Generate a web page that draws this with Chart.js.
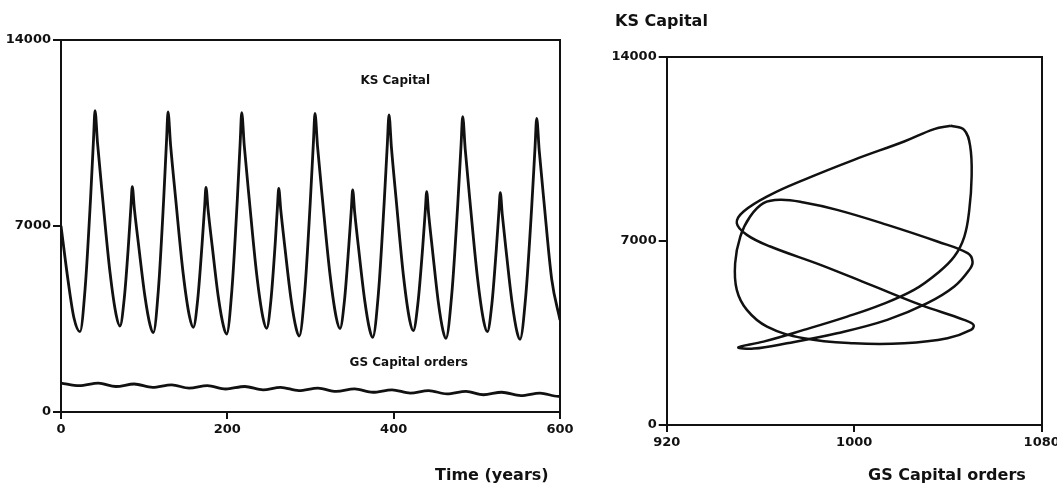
<!DOCTYPE html>
<html>
<head>
<meta charset="utf-8">
<script src="https://cdn.jsdelivr.net/npm/chart.js@4.4.0/dist/chart.umd.min.js"></script>
<style>
  html, body { margin: 0; padding: 0; background: #ffffff; }
  body { width: 1057px; height: 492px; position: relative; overflow: hidden; }
  .panel { position: absolute; top: 0; height: 492px; }
  #timePanel { left: 0; width: 600px; }
  #phasePanel { left: 600px; width: 457px; }
</style>
</head>
<body>
<div class="panel" id="timePanel"><canvas id="timeChart"></canvas></div>
<div class="panel" id="phasePanel"><canvas id="phaseChart"></canvas></div>
<script>
// ---- KS Capital over time (years) ----
const ksYears = [
  0, 8.4, 15.6, 22.8, 29.1, 35.5, 39.1, 40.9, 43.9, 49.9, 58.9, 66.4, 70.9,
  76.1, 81.3, 84.2, 85.7, 88.2, 93.3, 100.9, 107.2, 111.0,
  117.2, 123.4, 126.9, 128.7, 131.7, 137.8, 146.9, 154.5, 159.1,
  164.4, 169.7, 172.8, 174.3, 176.8, 181.8, 189.2, 195.5, 199.2,
  205.5, 211.9, 215.5, 217.3, 220.3, 226.3, 235.3, 242.8, 247.3,
  252.4, 257.5, 260.3, 261.8, 264.3, 269.2, 276.6, 282.8, 286.5,
  293.1, 299.7, 303.5, 305.4, 308.4, 314.4, 323.5, 331.0, 335.5,
  340.8, 346.1, 349.2, 350.7, 353.1, 357.9, 365.2, 371.2, 374.8,
  381.7, 388.5, 392.4, 394.4, 397.3, 403.2, 411.9, 419.2, 423.6,
  429.2, 434.9, 438.1, 439.7, 442.0, 446.7, 453.6, 459.4, 462.9,
  469.9, 477.0, 481.0, 483.0, 486.0, 491.9, 500.8, 508.2, 512.6,
  518.1, 523.5, 526.6, 528.2, 530.6, 535.3, 542.4, 548.3, 551.9,
  558.9, 566.0, 570.0, 572.0, 575.0, 581.0, 590.0, 600.0
];
const ksValues = [
  7007, 4967, 3538, 3022, 4686, 8012, 10258, 11339, 10124, 8097, 5262, 3641, 3236,
  4285, 6382, 7797, 8479, 7654, 6281, 4358, 3259, 2985,
  4646, 7968, 10211, 11290, 10075, 8049, 5213, 3593, 3188,
  4241, 6349, 7771, 8456, 7628, 6248, 4316, 3212, 2936,
  4601, 7933, 10182, 11264, 10047, 8018, 5179, 3556, 3150,
  4204, 6311, 7734, 8418, 7585, 6195, 4250, 3138, 2861,
  4535, 7885, 10145, 11233, 10019, 7997, 5165, 3547, 3142,
  4185, 6270, 7677, 8355, 7523, 6137, 4197, 3088, 2811,
  4484, 7830, 10090, 11177, 9960, 7930, 5089, 3466, 3060,
  4106, 6198, 7611, 8291, 7464, 6084, 4153, 3049, 2773,
  4442, 7777, 10029, 11113, 9899, 7877, 5045, 3427, 3022,
  4069, 6161, 7573, 8254, 7426, 6047, 4115, 3011, 2736,
  4399, 7726, 9971, 11053, 9844, 7827, 5003, 3463
];

// ---- GS Capital orders over time (years) ----
const gsYears = [
  0, 22, 45, 66, 88, 110, 133, 154, 176, 198, 221, 243, 264, 286,
  309, 331, 353, 375, 398, 420, 442, 464, 487, 508, 530, 553, 576, 598, 600
];
const gsValues = [
  1090, 990, 1083, 959, 1053, 928, 1022, 897, 992, 866, 960, 835, 930, 805,
  899, 773, 868, 743, 836, 711, 806, 680, 774, 649, 744, 618, 712, 586, 586
];

// ---- Phase path: GS Capital orders (x) against KS Capital (y) ----
const phaseOrders = [
  1041.2, 1046.9, 1049.5, 1050.1, 1049.1, 1047.0, 1042.7, 1035.5, 1025.5, 1011.3, 997.0, 978.5, 961.3, 950.6,
  957.1, 971.3, 992.7, 1014.1, 1031.2, 1042.7, 1049.1, 1050.5, 1048.4, 1035.5, 1014.1, 992.7, 978.5, 968.5,
  961.3, 955.6, 951.4, 949.2, 949.9, 954.2, 962.8, 978.5, 999.9, 1021.3, 1039.8, 1049.8, 1050.9,
  1046.9, 1028.4, 1007.0, 985.6, 964.2, 954.2, 949.9, 952.8, 964.2, 978.5, 999.9, 1021.3, 1034.1, 1041.2
];
const phaseCapital = [
  11374, 11222, 10588, 9447, 8179, 7165, 6404, 5770, 5136, 4565, 4121, 3614, 3170, 2955,
  2904, 3107, 3487, 3995, 4629, 5263, 5897, 6214, 6531, 6975, 7609, 8179, 8458, 8559,
  8433, 7925, 7165, 6150, 5136, 4375, 3741, 3297, 3107, 3107, 3297, 3614, 3805,
  3995, 4565, 5326, 6087, 6784, 7228, 7672, 8116, 8749, 9320, 10081, 10778, 11248, 11374
];

// ---- Tick labels ----
const timeTicks = [0, 200, 400, 600];
const capitalTicks = [0, 7000, 14000];
const orderTicks = [920, 1000, 1080];

const INK = '#111111';
const FONT = '"DejaVu Sans", "Liberation Sans", sans-serif';

const pairs = (xs, ys) => xs.map((x, i) => ({ x, y: ys[i] }));

// Free-standing text: items are placed either in canvas pixels or in data units.
const textMarks = {
  id: 'textMarks',
  afterDraw(chart, args, opts) {
    const ctx = chart.ctx;
    ctx.save();
    ctx.fillStyle = INK;
    ctx.textBaseline = 'middle';
    for (const item of opts.items || []) {
      let x = item.x, y = item.y;
      if (item.data) {
        x = chart.scales.x.getPixelForValue(item.data[0]);
        y = chart.scales.y.getPixelForValue(item.data[1]);
      }
      ctx.font = item.font;
      ctx.textAlign = item.align || 'left';
      ctx.fillText(item.text, x, y);
    }
    ctx.restore();
  }
};

function valueAxis(position, ticks, fitSize, extra) {
  const horizontal = position === 'bottom';
  return Object.assign({
    type: 'linear',
    position,
    afterBuildTicks(scale) { scale.ticks = ticks.map(value => ({ value })); },
    afterFit(scale) {
      if (horizontal) { scale.height = fitSize; scale.paddingLeft = 0; scale.paddingRight = 0; }
      else { scale.width = fitSize; scale.paddingTop = 0; scale.paddingBottom = 0; }
    },
    grid: { display: true, drawOnChartArea: false, drawTicks: true, tickLength: horizontal ? 7 : 8, color: INK, lineWidth: 2 },
    border: { display: true, color: INK, width: 2 },
    ticks: {
      color: INK, autoSkip: false, maxRotation: 0, padding: horizontal ? 3 : 2,
      font: { family: FONT, size: 13, weight: 'bold' },
      callback: value => String(value)
    }
  }, extra);
}

function frameAxis(position, min, max) {
  const horizontal = position === 'top';
  return {
    type: 'linear', position, min, max,
    grid: { display: false }, ticks: { display: false },
    border: { display: true, color: INK, width: 2 },
    afterFit(scale) {
      if (horizontal) { scale.height = 0; scale.paddingLeft = 0; scale.paddingRight = 0; }
      else { scale.width = 0; scale.paddingTop = 0; scale.paddingBottom = 0; }
    }
  };
}

const lineStyle = { borderColor: INK, backgroundColor: INK, pointRadius: 0, fill: false, showLine: true };

new Chart(document.getElementById('timeChart'), {
  type: 'scatter',
  data: {
    datasets: [
      Object.assign({ label: 'KS Capital', data: pairs(ksYears, ksValues), borderWidth: 2.8, cubicInterpolationMode: 'monotone' }, lineStyle),
      Object.assign({ label: 'GS Capital orders', data: pairs(gsYears, gsValues), borderWidth: 2.8, cubicInterpolationMode: 'monotone' }, lineStyle)
    ]
  },
  options: {
    responsive: true, maintainAspectRatio: false, animation: false, events: [],
    layout: { padding: { left: 0, top: 40, right: 40, bottom: 0 } },
    scales: {
      x: valueAxis('bottom', timeTicks, 80, { min: 0, max: 600 }),
      y: valueAxis('left', capitalTicks, 61, { min: 0, max: 14000 }),
      xTop: frameAxis('top', 0, 600),
      yRight: frameAxis('right', 0, 14000)
    },
    plugins: {
      legend: { display: false }, tooltip: { enabled: false },
      textMarks: {
        items: [
          { text: 'KS Capital', data: [360, 12480], font: 'bold 12px ' + FONT },
          { text: 'GS Capital orders', data: [347, 1840], font: 'bold 12px ' + FONT },
          { text: 'Time (years)', x: 435, y: 476, font: 'bold 16px ' + FONT }
        ]
      }
    }
  },
  plugins: [textMarks]
});

new Chart(document.getElementById('phaseChart'), {
  type: 'scatter',
  data: {
    datasets: [
      Object.assign({ label: 'KS Capital vs GS Capital orders', data: pairs(phaseOrders, phaseCapital), borderWidth: 2.5, tension: 0.4 }, lineStyle)
    ]
  },
  options: {
    responsive: true, maintainAspectRatio: false, animation: false, events: [],
    layout: { padding: { left: 0, top: 56.7, right: 15.3, bottom: 0 } },
    scales: {
      x: valueAxis('bottom', orderTicks, 67, { min: 920, max: 1080 }),
      y: valueAxis('left', capitalTicks, 66.7, { min: 0, max: 14000 }),
      xTop: frameAxis('top', 920, 1080),
      yRight: frameAxis('right', 0, 14000)
    },
    plugins: {
      legend: { display: false }, tooltip: { enabled: false },
      textMarks: {
        items: [
          { text: 'KS Capital', x: 15, y: 22, font: 'bold 16px ' + FONT },
          { text: 'GS Capital orders', x: 268, y: 476, font: 'bold 16px ' + FONT }
        ]
      }
    }
  },
  plugins: [textMarks]
});
</script>
</body>
</html>
